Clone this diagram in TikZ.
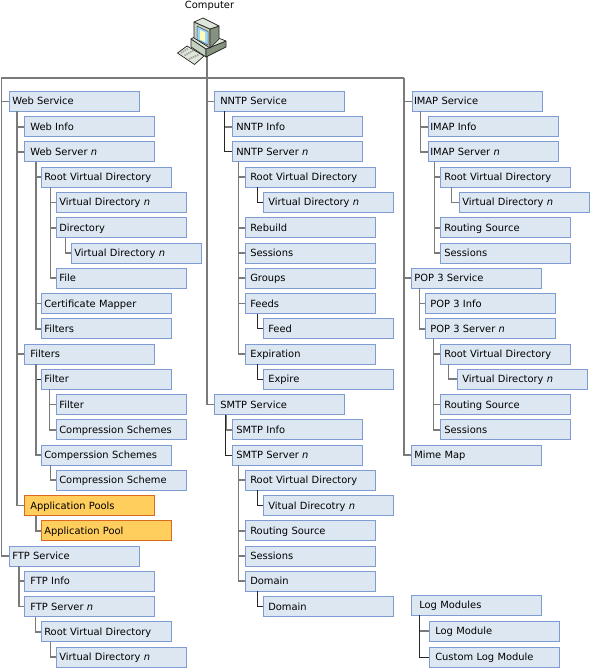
\documentclass[tikz,border=0pt]{standalone}
\usepackage{fontspec}
\setmainfont{DejaVu Sans}
\usepackage{tikz}
\usetikzlibrary{positioning}
\definecolor{boxblue}{HTML}{7F9BD4}
\definecolor{boxfill}{HTML}{DCE7F2}
\definecolor{poolline}{HTML}{DC6A1E}
\definecolor{poolfill}{HTML}{FFCE5C}
\definecolor{linkgray}{HTML}{7A7A7A}
\definecolor{pcface}{HTML}{C4D0C0}
\definecolor{pctop}{HTML}{DFE6DA}
\definecolor{pcside}{HTML}{84927F}

\begin{document}
\begin{tikzpicture}[x=1pt,y=1pt,
  box/.style={draw=boxblue,fill=boxfill,line width=1pt,outer sep=0pt,inner xsep=0pt,inner ysep=0pt,
    text width=130.4pt,minimum height=20pt,align=left,text height=8pt,text depth=1pt,font=\fontsize{9.9}{11}\selectfont,
    execute at begin node={\hspace*{#1}}},
  box/.default=3pt,
  pool/.style={draw=poolline,fill=poolfill},
  link/.style={draw=linkgray,line width=1.6pt},
  dlink/.style={draw=black!85,line width=1pt},
  pcline/.style={draw=black!85,line width=0.7pt,line join=round}]
  \useasboundingbox (0,0) rectangle (590,-668);

  % computer
  \node[font=\fontsize{9.9}{11}\selectfont] (computerlabel) at (209.5,-5.5) {Computer};
  \coordinate (computer) at (207,-55);
  \coordinate (busleft) at (1.4,-78);
  \coordinate (busmid) at (207,-78);
  \coordinate (busright) at (403.8,-78);

  % first column
  \node[box,anchor=north west] (websvc) at (9.3,-91.5) {Web Service};
  \node[box=6pt,below right=5.25pt and 15pt of websvc.south west] (webinfo) {Web Info};
  \node[box=6pt,below right=5.25pt and 0pt of webinfo.south west] (websrv) {Web Server \textit{n}};
  \node[box,below right=5.25pt and 17pt of websrv.south west] (webroot) {Root Virtual Directory};
  \node[box,below right=5.25pt and 15pt of webroot.south west] (webvdir) {Virtual Directory \textit{n}};
  \node[box,below right=5.25pt and 0pt of webvdir.south west] (webdir) {Directory};
  \node[box,below right=5.25pt and 15pt of webdir.south west] (webdirv) {Virtual Directory \textit{n}};
  \node[box,below right=5.25pt and -15pt of webdirv.south west] (webfile) {File};
  \node[box,below right=5.25pt and -15pt of webfile.south west] (webcert) {Certificate Mapper};
  \node[box,below right=5.25pt and 0pt of webcert.south west] (websrvfilters) {Filters};
  \node[box=6pt,below right=5.25pt and -17pt of websrvfilters.south west] (webfilters) {Filters};
  \node[box,below right=5.25pt and 17pt of webfilters.south west] (filterone) {Filter};
  \node[box,below right=5.25pt and 15pt of filterone.south west] (filtertwo) {Filter};
  \node[box,below right=5.25pt and 0pt of filtertwo.south west] (filterschemes) {Compression Schemes};
  \node[box,below right=5.25pt and -15pt of filterschemes.south west] (comperssion) {Comperssion Schemes};
  \node[box,below right=5.25pt and 15pt of comperssion.south west] (compscheme) {Compression Scheme};
  \node[box=6pt,pool,below right=5.25pt and -32pt of compscheme.south west] (apppools) {Application Pools};
  \node[box,pool,below right=5.25pt and 17pt of apppools.south west] (apppool) {Application Pool};
  \node[box,below right=5.25pt and -32pt of apppool.south west] (ftpsvc) {FTP Service};
  \node[box=6pt,below right=5.25pt and 15pt of ftpsvc.south west] (ftpinfo) {FTP Info};
  \node[box=6pt,below right=5.25pt and 0pt of ftpinfo.south west] (ftpsrv) {FTP Server \textit{n}};
  \node[box,below right=5.25pt and 17pt of ftpsrv.south west] (ftproot) {Root Virtual Directory};
  \node[box,below right=5.25pt and 15pt of ftproot.south west] (ftpvdir) {Virtual Directory \textit{n}};

  % second column
  \node[box=6pt,anchor=north west] (nntpsvc) at (214.3,-91.5) {NNTP Service};
  \node[box=4pt,below right=5.25pt and 18pt of nntpsvc.south west] (nntpinfo) {NNTP Info};
  \node[box=4pt,below right=5.25pt and 0pt of nntpinfo.south west] (nntpsrv) {NNTP Server \textit{n}};
  \node[box=5pt,below right=5.25pt and 13pt of nntpsrv.south west] (nntproot) {Root Virtual Directory};
  \node[box=5pt,below right=5.25pt and 18pt of nntproot.south west] (nntpvdir) {Virtual Directory \textit{n}};
  \node[box=5pt,below right=5.25pt and -18pt of nntpvdir.south west] (rebuild) {Rebuild};
  \node[box=5pt,below right=5.25pt and 0pt of rebuild.south west] (nntpsess) {Sessions};
  \node[box=5pt,below right=5.25pt and 0pt of nntpsess.south west] (groups) {Groups};
  \node[box=5pt,below right=5.25pt and 0pt of groups.south west] (feeds) {Feeds};
  \node[box=5pt,below right=5.25pt and 18pt of feeds.south west] (feed) {Feed};
  \node[box=5pt,below right=5.25pt and -18pt of feed.south west] (expiration) {Expiration};
  \node[box=5pt,below right=5.25pt and 18pt of expiration.south west] (expire) {Expire};
  \node[box=6pt,below right=5.25pt and -49pt of expire.south west] (smtpsvc) {SMTP Service};
  \node[box=4pt,below right=5.25pt and 18pt of smtpsvc.south west] (smtpinfo) {SMTP Info};
  \node[box=4pt,below right=5.25pt and 0pt of smtpinfo.south west] (smtpsrv) {SMTP Server \textit{n}};
  \node[box=5pt,below right=5.25pt and 13pt of smtpsrv.south west] (smtproot) {Root Virtual Directory};
  \node[box=5pt,below right=5.25pt and 18pt of smtproot.south west] (smtpvdir) {Vitual Direcotry \textit{n}};
  \node[box=5pt,below right=5.25pt and -18pt of smtpvdir.south west] (smtprout) {Routing Source};
  \node[box=5pt,below right=5.25pt and 0pt of smtprout.south west] (smtpsess) {Sessions};
  \node[box=5pt,below right=5.25pt and 0pt of smtpsess.south west] (domains) {Domain};
  \node[box=5pt,below right=5.25pt and 18pt of domains.south west] (domain) {Domain};

  % third column
  \node[box=2pt,anchor=north west] (imapsvc) at (412,-91.5) {IMAP Service};
  \node[box=2pt,below right=5.25pt and 16.3pt of imapsvc.south west] (imapinfo) {IMAP Info};
  \node[box=2pt,below right=5.25pt and 0pt of imapinfo.south west] (imapsrv) {IMAP Server \textit{n}};
  \node[box=4pt,below right=5.25pt and 12pt of imapsrv.south west] (imaproot) {Root Virtual Directory};
  \node[box,below right=5.25pt and 19pt of imaproot.south west] (imapvdir) {Virtual Directory \textit{n}};
  \node[box=4pt,below right=5.25pt and -19pt of imapvdir.south west] (imaprout) {Routing Source};
  \node[box=4pt,below right=5.25pt and 0pt of imaprout.south west] (imapsess) {Sessions};
  \node[box,below right=5.25pt and -29pt of imapsess.south west] (popsvc) {POP 3 Service};
  \node[box=5pt,below right=5.25pt and 14pt of popsvc.south west] (popinfo) {POP 3 Info};
  \node[box=5pt,below right=5.25pt and 0pt of popinfo.south west] (popsrv) {POP 3 Server \textit{n}};
  \node[box=4pt,below right=5.25pt and 15pt of popsrv.south west] (poproot) {Root Virtual Directory};
  \node[box=5pt,below right=5.25pt and 17pt of poproot.south west] (popvdir) {Virtual Directory \textit{n}};
  \node[box=4pt,below right=5.25pt and -17pt of popvdir.south west] (poprout) {Routing Source};
  \node[box=4pt,below right=5.25pt and 0pt of poprout.south west] (popsess) {Sessions};
  \node[box,below right=5.25pt and -29pt of popsess.south west] (mimemap) {Mime Map};
  \node[box=8pt,anchor=north west] (logmods) at (411.3,-595) {Log Modules};
  \node[box=6pt,below right=6pt and 18pt of logmods.south west] (logmod) {Log Module};
  \node[box=6pt,below right=6pt and 0pt of logmod.south west] (customlog) {Custom Log Module};

  % bus and columns
  \draw[link] (computer) -- (busmid);
  \draw[link] (busleft) -- (busright);
  \draw[link] (busleft) |- (websvc.west);
  \draw[link] (busleft) |- (ftpsvc.west);
  \draw[link] (busmid) |- (nntpsvc.west);
  \draw[link] (busmid) |- (smtpsvc.west);
  \draw[link] (busright) |- (imapsvc.west);
  \draw[link] (busright) |- (popsvc.west);
  \draw[link] (busright) |- (mimemap.west);

  % first column links
  \draw[link] ([xshift=-7.3pt]webinfo.west |- websvc.south) |- (webinfo.west);
  \draw[link] ([xshift=-7.3pt]websrv.west |- websvc.south) |- (websrv.west);
  \draw[link] ([xshift=-7.3pt]webfilters.west |- websvc.south) |- (webfilters.west);
  \draw[link] ([xshift=-7.3pt]apppools.west |- websvc.south) |- (apppools.west);
  \draw[link] ([xshift=-5.3pt]webroot.west |- websrv.south) |- (webroot.west);
  \draw[link] ([xshift=-5.3pt]webcert.west |- websrv.south) |- (webcert.west);
  \draw[link] ([xshift=-5.3pt]websrvfilters.west |- websrv.south) |- (websrvfilters.west);
  \draw[link] ([xshift=-6pt]webvdir.west |- webroot.south) |- (webvdir.west);
  \draw[link] ([xshift=-6pt]webdir.west |- webroot.south) |- (webdir.west);
  \draw[link] ([xshift=-6pt]webfile.west |- webroot.south) |- (webfile.west);
  \draw[link] ([xshift=-6pt]webdirv.west |- webdir.south) |- (webdirv.west);
  \draw[dlink] ([xshift=-5.3pt]filterone.west |- webfilters.south) |- (filterone.west);
  \draw[link] ([xshift=-5.3pt]comperssion.west |- webfilters.south) |- (comperssion.west);
  \draw[link] ([xshift=-7pt]filtertwo.west |- filterone.south) |- (filtertwo.west);
  \draw[link] ([xshift=-7pt]filterschemes.west |- filterone.south) |- (filterschemes.west);
  \draw[link] ([xshift=-6pt]compscheme.west |- comperssion.south) |- (compscheme.west);
  \draw[link] ([xshift=-5.3pt]apppool.west |- apppools.south) |- (apppool.west);
  \draw[link] ([xshift=-5.3pt]ftpinfo.west |- ftpsvc.south) |- (ftpinfo.west);
  \draw[link] ([xshift=-5.3pt]ftpsrv.west |- ftpsvc.south) |- (ftpsrv.west);
  \draw[link] ([xshift=-6pt]ftproot.west |- ftpsrv.south) |- (ftproot.west);
  \draw[link] ([xshift=-6pt]ftpvdir.west |- ftproot.south) |- (ftpvdir.west);

  % second column links
  \draw[link] ([xshift=-8pt]nntpinfo.west |- nntpsvc.south) |- (nntpinfo.west);
  \draw[dlink] ([xshift=-8pt]nntpsrv.west |- nntpsvc.south) |- (nntpsrv.west);
  \draw[link] ([xshift=-7pt]nntproot.west |- nntpsrv.south) |- (nntproot.west);
  \draw[link] ([xshift=-7pt]rebuild.west |- nntpsrv.south) |- (rebuild.west);
  \draw[link] ([xshift=-7pt]nntpsess.west |- nntpsrv.south) |- (nntpsess.west);
  \draw[link] ([xshift=-7pt]groups.west |- nntpsrv.south) |- (groups.west);
  \draw[link] ([xshift=-7pt]feeds.west |- nntpsrv.south) |- (feeds.west);
  \draw[link] ([xshift=-7pt]expiration.west |- nntpsrv.south) |- (expiration.west);
  \draw[dlink] ([xshift=-6pt]nntpvdir.west |- nntproot.south) |- (nntpvdir.west);
  \draw[dlink] ([xshift=-6pt]feed.west |- feeds.south) |- (feed.west);
  \draw[dlink] ([xshift=-6pt]expire.west |- expiration.south) |- (expire.west);
  \draw[link] ([xshift=-6.5pt]smtpinfo.west |- smtpsvc.south) |- (smtpinfo.west);
  \draw[dlink] ([xshift=-6.5pt]smtpsrv.west |- smtpsvc.south) |- (smtpsrv.west);
  \draw[link] ([xshift=-7pt]smtproot.west |- smtpsrv.south) |- (smtproot.west);
  \draw[link] ([xshift=-7pt]smtprout.west |- smtpsrv.south) |- (smtprout.west);
  \draw[link] ([xshift=-7pt]smtpsess.west |- smtpsrv.south) |- (smtpsess.west);
  \draw[link] ([xshift=-7pt]domains.west |- smtpsrv.south) |- (domains.west);
  \draw[dlink] ([xshift=-6pt]smtpvdir.west |- smtproot.south) |- (smtpvdir.west);
  \draw[dlink] ([xshift=-6pt]domain.west |- domains.south) |- (domain.west);

  % third column links
  \draw[link] ([xshift=-8pt]imapinfo.west |- imapsvc.south) |- (imapinfo.west);
  \draw[link] ([xshift=-8pt]imapsrv.west |- imapsvc.south) |- (imapsrv.west);
  \draw[link] ([xshift=-6pt]imaproot.west |- imapsrv.south) |- (imaproot.west);
  \draw[link] ([xshift=-6pt]imaprout.west |- imapsrv.south) |- (imaprout.west);
  \draw[link] ([xshift=-6pt]imapsess.west |- imapsrv.south) |- (imapsess.west);
  \draw[link] ([xshift=-8pt]imapvdir.west |- imaproot.south) |- (imapvdir.west);
  \draw[link] ([xshift=-6pt]popinfo.west |- popsvc.south) |- (popinfo.west);
  \draw[link] ([xshift=-6pt]popsrv.west |- popsvc.south) |- (popsrv.west);
  \draw[link] ([xshift=-7pt]poproot.west |- popsrv.south) |- (poproot.west);
  \draw[link] ([xshift=-7pt]poprout.west |- popsrv.south) |- (poprout.west);
  \draw[link] ([xshift=-7pt]popsess.west |- popsrv.south) |- (popsess.west);
  \draw[link] ([xshift=-9pt]popvdir.west |- poproot.south) |- (popvdir.west);
  \draw[link] ([xshift=-10pt]logmod.west |- logmods.south) |- (logmod.west);
  \draw[dlink] ([xshift=-10pt]customlog.west |- logmods.south) |- (customlog.west);

  % computer icon
  \draw[pcline,fill=pctop] (177.5,-53) -- (187,-46) -- (204,-56) -- (194.5,-64.5) -- cycle;
  \draw[line width=1.8pt,dash pattern=on 1.4pt off 0.8pt,black!35] (181,-53) -- (188,-48.5) (184.5,-55.5) -- (194,-50) (189,-59) -- (199,-54.5);
  \draw[pcline,fill=pcface] (191,-39) -- (206,-49) -- (206,-57) -- (191,-47) -- cycle;
  \draw[pcline,fill=pcside] (206,-49) -- (226,-41) -- (226,-47) -- (206,-57) -- cycle;
  \draw[pcline,fill=pctop] (191,-39) -- (203,-32) -- (226,-41) -- (206,-49) -- cycle;
  \draw[pcline,fill=pcface] (194,-22) -- (210,-29) -- (210,-48) -- (194,-38) -- cycle;
  \draw[pcline,fill=pcside] (210,-29) -- (219,-26) -- (219,-39) -- (210,-48) -- cycle;
  \draw[pcline,fill=pctop] (194,-22) -- (203,-18) -- (219,-26) -- (210,-29) -- cycle;
  \draw[line width=0.5pt,draw=black!70,fill=blue!40!cyan!40] (197,-26) -- (208,-31.5) -- (208,-45) -- (197,-39.5) -- cycle;
  \fill[white!70!yellow] (200,-30) -- (205,-32.5) -- (205,-42) -- (200,-39.5) -- cycle;
\end{tikzpicture}
\end{document}
